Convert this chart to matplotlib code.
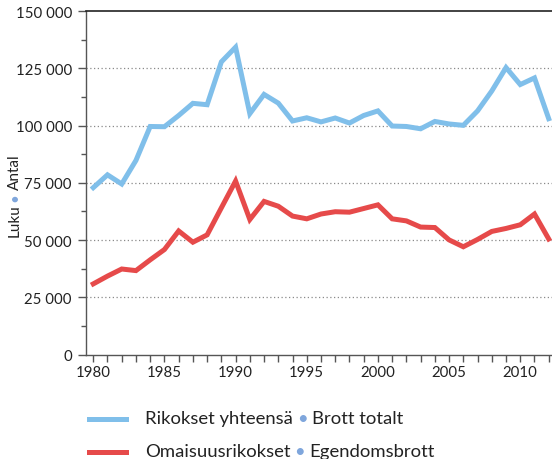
import matplotlib
matplotlib.use("Agg")
import matplotlib.pyplot as plt
from matplotlib.lines import Line2D
from matplotlib.ticker import FuncFormatter, MultipleLocator

years = list(range(1980, 2013))
total = [72900, 78500, 74500, 84800, 99600, 99500, 104400, 109700, 109100, 127800,
         134200, 105200, 113600, 109800, 102000, 103400, 101600, 103300, 101100, 104400,
         106400, 99800, 99600, 98600, 101800, 100700, 100100, 106400, 115100, 125300,
         117900, 120800, 103000]
property_crime = [30900, 34300, 37400, 36700, 41400, 45900, 54000, 49100, 52300, 64100,
                  75800, 59000, 66900, 64800, 60500, 59300, 61400, 62400, 62200, 63800,
                  65400, 59300, 58400, 55700, 55500, 50100, 47100, 50300, 53800, 55100,
                  56700, 61400, 50500]

label_fi = ["Rikokset yhteensä", "Omaisuusrikokset"]
label_sv = ["Brott totalt", "Egendomsbrott"]

BLUE = "#80bfea"
RED = "#e64a4a"
DOT = "#7fa6dc"
FONT = "Lato"

plt.rcParams["font.family"] = [FONT, "DejaVu Sans"]

fig = plt.figure(figsize=(5.52, 4.6), dpi=100)
ax = fig.add_axes([86 / 552, 1 - 355.7 / 460, 1 - 86 / 552, (355.7 - 12) / 460])

ax.plot(years, total, color=BLUE, lw=3.6, solid_joinstyle="miter", zorder=3)
ax.plot(years, property_crime, color=RED, lw=3.6, solid_joinstyle="miter", zorder=3)

ax.set_xlim(1979.49, 2012.23)
ax.set_ylim(0, 150000)

ax.yaxis.set_major_locator(MultipleLocator(25000))
ax.yaxis.set_minor_locator(MultipleLocator(12500))
ax.yaxis.set_major_formatter(FuncFormatter(lambda v, p: f"{int(v):,}".replace(",", " ")))
ax.xaxis.set_major_locator(MultipleLocator(5))
ax.xaxis.set_minor_locator(MultipleLocator(1))

for v in range(25000, 150000, 25000):
    ax.axhline(v, color="#8a8a8a", lw=0.9, ls=(0, (1, 2)), zorder=1)

ax.spines["right"].set_visible(False)
ax.spines["top"].set_color("#222222")
ax.spines["top"].set_linewidth(1.2)
for s in ("left", "bottom"):
    ax.spines[s].set_color("#555555")
    ax.spines[s].set_linewidth(1.0)

ax.tick_params(axis="y", which="major", length=5.8, width=1, color="#555555",
               labelsize=10.8, labelcolor="#222222", pad=4.3)
ax.tick_params(axis="y", which="minor", length=3.6, width=1, color="#555555")
ax.tick_params(axis="x", which="both", length=5, width=1, color="#555555",
               labelsize=10.8, labelcolor="#222222", pad=2.5)

fig.canvas.draw()
renderer = fig.canvas.get_renderer()
W, H = fig.bbox.width, fig.bbox.height


def text_run(x_px, y_px, parts, size, gap, rotation=0):
    # lay out coloured pieces of text one after another
    pos = x_px if rotation == 0 else y_px
    for txt, col in parts:
        if rotation == 0:
            t = fig.text(pos / W, 1 - y_px / H, txt, color=col, fontsize=size,
                         va="center", ha="left")
        else:
            t = fig.text(x_px / W, pos / H, txt, color=col, fontsize=size,
                         va="bottom", ha="center", rotation=90)
        bb = t.get_window_extent(renderer)
        pos = (bb.x1 if rotation == 0 else bb.y1) + gap


# y axis label, drawn bottom to top
text_run(15, 460 - 237, [("Luku", "#222222"), ("•", DOT), ("Antal", "#222222")],
         11, 2.5, rotation=90)

# legend below the plot
for i, (col, fi, sv) in enumerate(zip([BLUE, RED], label_fi, label_sv)):
    y = 420 + i * 33
    fig.add_artist(Line2D([89 / W, 126 / W], [1 - y / H, 1 - y / H], color=col, lw=3.6,
                          transform=fig.transFigure))
    text_run(145, y - 1, [(fi, "#222222"), ("•", DOT), (sv, "#222222")], 13.3, 4)

fig.savefig("out.png", dpi=100)
